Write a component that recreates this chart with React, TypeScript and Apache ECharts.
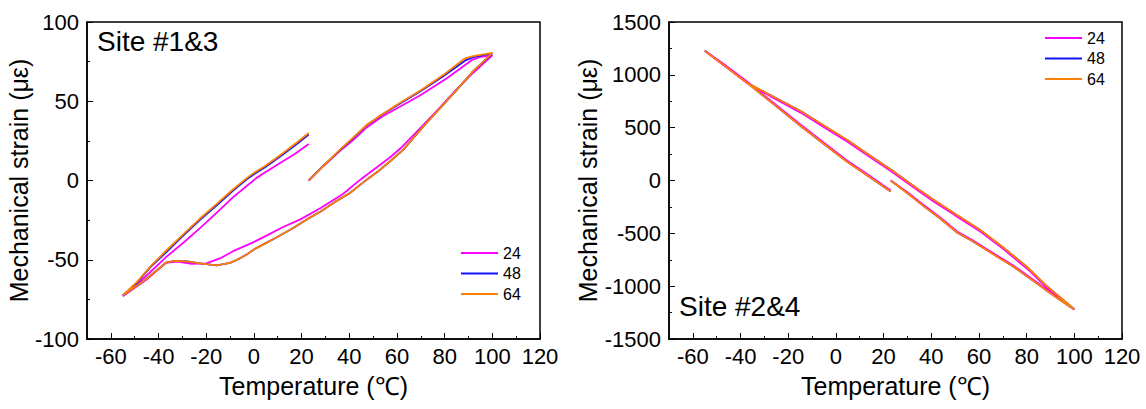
import React, { useEffect, useRef } from "react";
import * as echarts from "echarts";

// ---------- data ----------
const seriesNames = ["24", "48", "64"];
const seriesColors = ["#FF00FF", "#1414FF", "#FF8000"];

const xMajorTicks = [-60, -40, -20, 0, 20, 40, 60, 80, 100, 120];
const xMinorTicks = [-50, -30, -10, 10, 30, 50, 70, 90, 110];

// Site #1&3 (temperature, strain)
const site13_24: number[][] = [
  [23, 0], [29, 9], [36, 18.5], [42, 26], [47.3, 33.5], [54, 40.5], [61.2, 46.5], [70, 54], [80.8, 64.4], [86, 70], [91.3, 75.9], [95, 78], [100, 79],
  [92, 68], [85, 57.5], [78, 46], [71, 35], [62, 21], [57, 14.5], [52, 8.8], [45, 1], [37.5, -8.4], [28, -17.4], [19.3, -24.7], [12, -29.5], [5.3, -34.8], [-1, -39.5], [-8.7, -44.6], [-14, -49], [-20, -52.3], [-26, -52.6], [-32, -51.2], [-37, -52], [-45, -62.5], [-55, -73],
  [-49, -65.5], [-44, -58.5], [-36.6, -48], [-29, -38.5], [-22.6, -30], [-15, -19.5], [-8.7, -10.5], [-3, -3.5], [1, 1.5], [5.3, 5.7], [11, 11], [17, 16.5], [23, 23],
];
const site13_48: number[][] = [
  [23, 0], [29, 9], [36, 19], [42, 27.3], [47.3, 34.8], [54, 41.8], [61, 48.3], [70, 56.5], [79.4, 65.8], [85, 71.8], [88.5, 75.6], [92, 77.8], [100, 80.2],
  [92, 69], [85, 57], [78, 45.5], [71, 34], [62.6, 19.3], [57, 12], [52, 5.7], [46, -1], [40.3, -7.9], [34, -13.5], [28, -19.5], [22, -24.7], [16.5, -30], [10, -35.5], [5, -39.5], [0, -43.5], [-3, -46.7], [-7, -50], [-10, -52], [-15.6, -53.5], [-22.6, -52.3], [-28, -51], [-33, -50.7], [-36.6, -51.6], [-45, -62], [-55, -72.5],
  [-49, -64.5], [-43.6, -55], [-36.6, -45], [-30, -35.3], [-22.6, -24.8], [-15, -14.8], [-8.7, -6.3], [-3, 0.7], [0, 4], [5, 8.7], [12, 16.2], [18, 23], [23, 29],
];
const site13_64: number[][] = [
  [23, 0], [29, 9], [36, 19.3], [42, 27.5], [47.3, 35], [54, 42], [61, 48.7], [70, 57], [79.4, 66.5], [85, 73], [88.5, 77], [92, 78.5], [100, 80.5],
  [92, 69], [85, 57], [78, 45.5], [71, 34], [62.6, 19.3], [57, 12], [52, 5.7], [46, -1], [40.3, -7.9], [34, -13.5], [28, -19.5], [22, -24.7], [16.5, -30], [10, -35.5], [5, -39.5], [0, -43.5], [-3, -46.7], [-7, -50], [-10, -52], [-15.6, -53.5], [-22.6, -52.3], [-28, -51], [-33, -50.7], [-36.6, -51.6], [-45, -62], [-55, -72.5],
  [-49, -64], [-43.6, -54.5], [-36.6, -44], [-30, -34.5], [-22.6, -24], [-15, -14], [-8.7, -5.5], [-3, 1.5], [0, 4.8], [5, 9.5], [12, 17], [18, 24], [23, 30],
];

// Site #2&4 (temperature, strain)
const site24_24: number[][] = [
  [23, 0], [30, -110], [37, -235], [44, -355], [51, -485], [57, -560], [63, -645], [69, -730], [74.4, -804], [80, -895], [85, -975], [89.8, -1055], [95, -1140], [100, -1220],
  [95.3, -1140], [88, -1005], [80, -830], [70, -645], [60.4, -481], [50, -330], [41, -198], [35, -105], [23, 90], [15, 210], [5, 365], [-5, 505], [-15, 645], [-26, 778], [-37, 918], [-46, 1073], [-55, 1227],
  [-46, 1085], [-37, 932], [-26, 732], [-15, 532], [-5, 357], [4.5, 192], [14, 47], [23, -95],
];
const site24_48: number[][] = [
  [23, 0], [30, -118], [37, -244], [44, -364], [51, -494], [57, -569], [63, -654], [69, -739], [74.4, -813], [80, -904], [85, -984], [89.8, -1064], [95, -1144], [100, -1220],
  [95.3, -1130], [88, -991], [80, -815], [70, -631], [60.4, -467], [50, -316], [41, -184], [35, -91], [23, 104], [15, 224], [5, 379], [-5, 519], [-15, 659], [-26, 789], [-37, 920], [-46, 1075], [-55, 1227],
  [-46, 1076], [-37, 922], [-26, 721], [-15, 521], [-5, 346], [4.5, 181], [14, 36], [23, -104],
];
const site24_64: number[][] = [
  [23, 0], [30, -120], [37, -245], [44, -365], [51, -495], [57, -570], [63, -655], [69, -740], [74.4, -814], [80, -905], [85, -985], [89.8, -1065], [95, -1145], [100, -1220],
  [95.3, -1129], [88, -990], [80, -814], [70, -630], [60.4, -466], [50, -315], [41, -183], [35, -90], [23, 105], [15, 225], [5, 380], [-5, 520], [-15, 660], [-26, 790], [-37, 921], [-46, 1075], [-55, 1227],
  [-46, 1075], [-37, 921], [-26, 720], [-15, 520], [-5, 345], [4.5, 180], [14, 35], [23, -105],
];

const FONT = "'Liberation Sans', Arial, sans-serif";

function makeXAxes(gridIndex: number) {
  return [
    {
      gridIndex,
      type: "value",
      position: "bottom",
      min: -70,
      max: 120,
      axisLine: { show: true, onZero: false, lineStyle: { color: "#000", width: 1.5 } },
      axisTick: { show: true, inside: true, length: 6, customValues: xMajorTicks, lineStyle: { color: "#000", width: 1 } },
      axisLabel: { show: true, customValues: xMajorTicks, fontSize: 22, color: "#000", margin: 6, fontFamily: FONT, showMinLabel: true, showMaxLabel: true, formatter: (v: number) => String(v) },
      splitLine: { show: false },
      name: "Temperature (℃)",
      nameLocation: "middle",
      nameGap: 34,
      nameTextStyle: { fontSize: 25, color: "#000", fontFamily: FONT },
    },
    {
      gridIndex,
      type: "value",
      position: "bottom",
      min: -70,
      max: 120,
      axisLine: { show: false, onZero: false },
      axisTick: { show: true, inside: true, length: 3, customValues: xMinorTicks, lineStyle: { color: "#000", width: 1 } },
      axisLabel: { show: false },
      splitLine: { show: false },
    },
  ];
}

function makeYAxis(gridIndex: number, min: number, max: number, interval: number) {
  return {
    gridIndex,
    type: "value",
    min,
    max,
    interval,
    axisLine: { show: true, onZero: false, lineStyle: { color: "#000", width: 1.5 } },
    axisTick: { show: true, inside: true, length: 6, lineStyle: { color: "#000", width: 1 } },
    minorTick: { show: true, splitNumber: 2, length: 3, lineStyle: { color: "#000", width: 1 } },
    axisLabel: { fontSize: 22, color: "#000", margin: 8, fontFamily: FONT, showMinLabel: true, showMaxLabel: true, formatter: (v: number) => String(v) },
    splitLine: { show: false },
    minorSplitLine: { show: false },
    name: "Mechanical strain (με)",
    nameLocation: "middle",
    nameGap: 53,
    nameTextStyle: { fontSize: 25, color: "#000", fontFamily: FONT },
  };
}

function makeSeries(name: string, color: string, data: number[][], xAxisIndex: number, yAxisIndex: number, z: number) {
  return {
    name,
    type: "line",
    xAxisIndex,
    yAxisIndex,
    data,
    showSymbol: false,
    symbol: "none",
    smooth: false,
    z,
    lineStyle: { color, width: 1.8 },
    itemStyle: { color },
  };
}

function makeLegend(left: number, top: number) {
  return {
    left,
    top,
    orient: "vertical",
    icon: "rect",
    itemWidth: 37,
    itemHeight: 2,
    itemGap: 3.5,
    padding: 0,
    selectedMode: false,
    data: seriesNames,
    textStyle: { fontSize: 16, color: "#000", fontFamily: FONT, lineHeight: 17 },
  };
}

export default function App() {
  const ref = useRef<HTMLDivElement>(null);
  useEffect(() => {
    if (!ref.current) return;
    const chart = echarts.init(ref.current, undefined, { renderer: "svg" });
    const left13 = [site13_24, site13_48, site13_64];
    const right24 = [site24_24, site24_48, site24_64];
    const series: any[] = [];
    seriesNames.forEach((n, i) => series.push(makeSeries(n, seriesColors[i], left13[i], 0, 0, 2 + i)));
    // right panel: blue under, magenta, orange on top
    const rightOrder = [1, 0, 2];
    rightOrder.forEach((i, k) => series.push(makeSeries(seriesNames[i], seriesColors[i], right24[i], 2, 1, 2 + k)));
    chart.setOption({
      animation: false,
      backgroundColor: "#fff",
      textStyle: { fontFamily: FONT },
      grid: [
        { left: 87, top: 22, width: 453, height: 317, show: true, borderColor: "#000", borderWidth: 1.5, backgroundColor: "transparent" },
        { left: 669, top: 22, width: 453, height: 317, show: true, borderColor: "#000", borderWidth: 1.5, backgroundColor: "transparent" },
      ],
      xAxis: [...makeXAxes(0), ...makeXAxes(1)],
      yAxis: [makeYAxis(0, -100, 100, 50), makeYAxis(1, -1500, 1500, 500)],
      legend: [makeLegend(461, 244.5), makeLegend(1045, 29.5)],
      graphic: [
        { type: "text", left: 97, top: 27, style: { text: "Site #1&3", fontSize: 28, fill: "#000", fontFamily: FONT } },
        { type: "text", left: 679, top: 292, style: { text: "Site #2&4", fontSize: 28, fill: "#000", fontFamily: FONT } },
      ],
      series,
    });
    return () => chart.dispose();
  }, []);
  return <div ref={ref} style={{ position: "fixed", left: 0, top: 0, width: 1146, height: 409, background: "#fff" }} />;
}
